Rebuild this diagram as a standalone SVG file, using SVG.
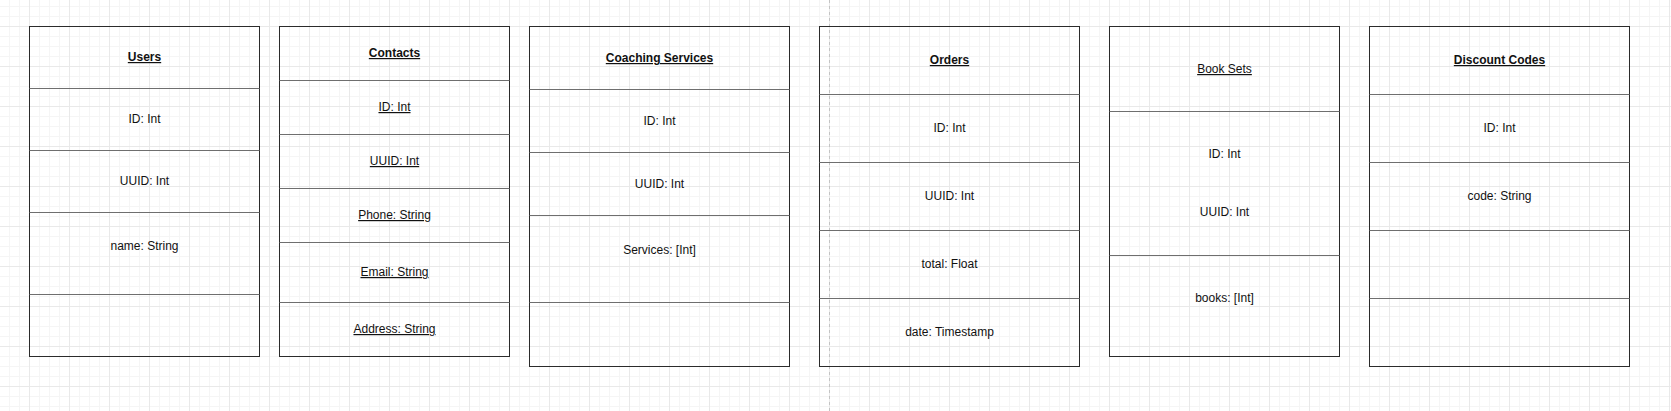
<svg xmlns="http://www.w3.org/2000/svg" width="1671" height="411" viewBox="0 0 1671 411">
<style>
.box{fill:none;stroke:#2b2b2b;stroke-width:1}
.div{stroke:#6e6e6e;stroke-width:1}
text{font-family:"Liberation Sans",Arial,Helvetica,sans-serif;font-size:12px;fill:#111;text-anchor:middle}
.t{font-weight:bold;text-decoration:underline}
.u{text-decoration:underline}
</style>
<defs>
<pattern id="minor" x="0" y="0" width="10" height="10" patternUnits="userSpaceOnUse">
<path d="M9.5 0V10M0 6.5H10" stroke="#f5f5f5" stroke-width="1" fill="none"/>
</pattern>
<pattern id="major" x="0" y="0" width="40" height="40" patternUnits="userSpaceOnUse">
<path d="M29.5 0V40M0 26.5H40" stroke="#e9e9e9" stroke-width="1" fill="none"/>
</pattern>
</defs>
<rect width="1671" height="411" fill="#ffffff"/>
<rect width="1671" height="411" fill="url(#minor)"/>
<rect width="1671" height="411" fill="url(#major)"/>
<line x1="829.5" y1="0" x2="829.5" y2="411" stroke="#c4c4c4" stroke-dasharray="3 3"/>

<g id="users">
<rect class="box" x="29.5" y="26.5" width="230" height="330" fill="none"/>
<path class="div" d="M29.5 88.5H259.5M29.5 150.5H259.5M29.5 212.5H259.5M29.5 294.5H259.5"/>
<text class="t" x="144.5" y="61">Users</text>
<text x="144.5" y="123">ID: Int</text>
<text x="144.5" y="185">UUID: Int</text>
<text x="144.5" y="250">name: String</text>
</g>

<g id="contacts">
<rect class="box" x="279.5" y="26.5" width="230" height="330"/>
<path class="div" d="M279.5 80.5H509.5M279.5 134.5H509.5M279.5 188.5H509.5M279.5 242.5H509.5M279.5 302.5H509.5"/>
<text class="t" x="394.5" y="57">Contacts</text>
<text class="u" x="394.5" y="111">ID: Int</text>
<text class="u" x="394.5" y="165">UUID: Int</text>
<text class="u" x="394.5" y="219">Phone: String</text>
<text class="u" x="394.5" y="276">Email: String</text>
<text class="u" x="394.5" y="333">Address: String</text>
</g>

<g id="coaching">
<rect class="box" x="529.5" y="26.5" width="260" height="340"/>
<path class="div" d="M529.5 89.5H789.5M529.5 152.5H789.5M529.5 215.5H789.5M529.5 302.5H789.5"/>
<text class="t" x="659.5" y="62">Coaching Services</text>
<text x="659.5" y="125">ID: Int</text>
<text x="659.5" y="188">UUID: Int</text>
<text x="659.5" y="254">Services: [Int]</text>
</g>

<g id="orders">
<rect class="box" x="819.5" y="26.5" width="260" height="340"/>
<path class="div" d="M819.5 94.5H1079.5M819.5 162.5H1079.5M819.5 230.5H1079.5M819.5 298.5H1079.5"/>
<text class="t" x="949.5" y="64">Orders</text>
<text x="949.5" y="132">ID: Int</text>
<text x="949.5" y="200">UUID: Int</text>
<text x="949.5" y="268">total: Float</text>
<text x="949.5" y="336">date: Timestamp</text>
</g>

<g id="booksets">
<rect class="box" x="1109.5" y="26.5" width="230" height="330"/>
<path class="div" d="M1109.5 111.5H1339.5M1109.5 255.5H1339.5"/>
<text class="u" x="1224.5" y="73">Book Sets</text>
<text x="1224.5" y="158">ID: Int</text>
<text x="1224.5" y="216">UUID: Int</text>
<text x="1224.5" y="302">books: [Int]</text>
</g>

<g id="discount">
<rect class="box" x="1369.5" y="26.5" width="260" height="340"/>
<path class="div" d="M1369.5 94.5H1629.5M1369.5 162.5H1629.5M1369.5 230.5H1629.5M1369.5 298.5H1629.5"/>
<text class="t" x="1499.5" y="64">Discount Codes</text>
<text x="1499.5" y="132">ID: Int</text>
<text x="1499.5" y="200">code: String</text>
</g>

<g id="connectors"></g>
</svg>
